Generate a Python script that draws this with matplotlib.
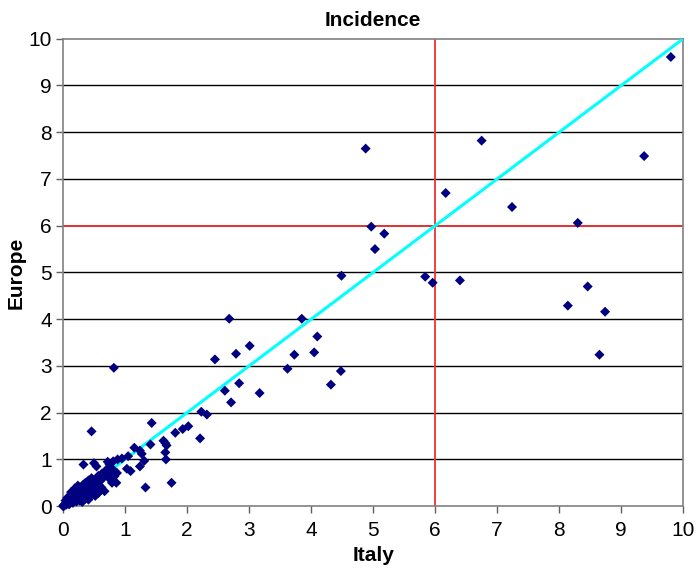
import matplotlib
matplotlib.use('Agg')
from matplotlib import pyplot as plt

# incidence values (Italy vs Europe)
italy_high = [9.80, 9.37, 8.30, 8.46, 8.14, 8.74, 8.65, 4.88, 6.75, 6.17, 7.24, 4.97, 5.18, 5.03, 4.49, 5.84, 5.96, 6.40]
europe_high = [9.61, 7.49, 6.06, 4.70, 4.29, 4.16, 3.24, 7.65, 7.82, 6.70, 6.40, 5.98, 5.83, 5.50, 4.93, 4.91, 4.78, 4.83]

italy_mid = [2.68, 3.85, 4.10, 2.45, 3.01, 2.79, 3.73, 4.05, 3.62, 4.48, 4.32, 2.84, 2.61, 3.17, 2.71, 2.23, 2.32, 1.93, 2.02, 2.21]
europe_mid = [4.01, 4.01, 3.63, 3.14, 3.43, 3.26, 3.24, 3.29, 2.94, 2.89, 2.60, 2.63, 2.47, 2.42, 2.22, 2.02, 1.96, 1.65, 1.71, 1.45]

italy_low = [0.82, 0.46, 1.43, 1.81, 1.62, 1.65, 1.67, 1.65, 1.66, 1.75, 1.33, 1.41, 1.24, 1.27, 1.31, 1.24, 1.15, 1.05, 0.88, 0.81, 1.03, 1.09, 0.72, 0.95]
europe_low = [2.96, 1.60, 1.78, 1.57, 1.40, 1.35, 1.30, 1.15, 1.00, 0.50, 0.40, 1.32, 1.19, 1.12, 0.97, 0.85, 1.25, 1.07, 1.00, 0.96, 0.80, 0.75, 0.95, 1.02]

italy_cluster = [0.33, 0.50, 0.54, 0.75, 0.81, 0.83, 0.86, 0.67, 0.70, 0.74, 0.87, 0.79, 0.60, 0.54, 0.41, 0.33, 0.41,
                 0.02, 0.03, 0.05, 0.06, 0.08, 0.09, 0.11, 0.12, 0.14, 0.15, 0.17, 0.18, 0.20, 0.21, 0.23, 0.25,
                 0.26, 0.28, 0.29, 0.31, 0.32, 0.34, 0.36, 0.37, 0.39, 0.41, 0.43, 0.44, 0.46, 0.48, 0.49, 0.51,
                 0.53, 0.55, 0.57, 0.58, 0.61, 0.63, 0.65, 0.68, 0.72, 0.76, 0.10, 0.16, 0.22, 0.27, 0.31, 0.35,
                 0.38, 0.45, 0.48, 0.52, 0.57, 0.62, 0.04, 0.07, 0.13, 0.19, 0.24, 0.00, 0.01]
europe_cluster = [0.89, 0.92, 0.85, 0.89, 0.78, 0.64, 0.50, 0.32, 0.68, 0.60, 0.71, 0.50, 0.35, 0.32, 0.18, 0.21, 0.14,
                  0.01, 0.04, 0.03, 0.08, 0.05, 0.12, 0.09, 0.15, 0.11, 0.20, 0.14, 0.25, 0.18, 0.30, 0.22, 0.35,
                  0.27, 0.18, 0.40, 0.32, 0.45, 0.36, 0.50, 0.28, 0.42, 0.55, 0.38, 0.48, 0.60, 0.44, 0.52, 0.40,
                  0.58, 0.50, 0.65, 0.45, 0.55, 0.70, 0.62, 0.75, 0.80, 0.72, 0.04, 0.07, 0.10, 0.12, 0.09, 0.15,
                  0.22, 0.25, 0.30, 0.22, 0.28, 0.40, 0.12, 0.18, 0.30, 0.38, 0.44, 0.00, 0.02]

italy = italy_high + italy_mid + italy_low + italy_cluster
europe = europe_high + europe_mid + europe_low + europe_cluster

threshold = 6
y_ticks = list(range(0, 11))
x_ticks = list(range(0, 11))

plt.rcParams['font.family'] = ['Liberation Sans', 'DejaVu Sans']

fig = plt.figure(figsize=(7, 5.7), dpi=100)
ax = fig.add_axes([0.09, 0.112, 0.886, 0.82])

# horizontal gridlines
for t in y_ticks[1:-1]:
    if t != threshold:
        ax.axhline(t, color='black', lw=1, zorder=1)

ax.axhline(threshold, color='#e02020', lw=1.3, zorder=2)
ax.axvline(threshold, color='#f03030', lw=1.3, zorder=2)
ax.plot([0, 10], [0, 10], color='#00ffff', lw=2.2, zorder=3)

ax.scatter(italy, europe, marker='D', s=26, color='#000080', edgecolors='none', zorder=4, clip_on=False)

ax.set_xlim(0, 10)
ax.set_ylim(0, 10)
ax.set_xticks(x_ticks)
ax.set_yticks(y_ticks)
ax.tick_params(labelsize=15, direction='out', length=5, color='#606060', width=1)
ax.tick_params(axis='x', pad=6)
ax.tick_params(axis='y', pad=3)
for side in ['left', 'bottom', 'top', 'right']:
    ax.spines[side].set_color('#808080')
    ax.spines[side].set_linewidth(1.2)

ax.set_title('Incidence', fontsize=15, fontweight='bold', pad=9)
ax.set_xlabel('Italy', fontsize=15, fontweight='bold', labelpad=4)
ax.set_ylabel('Europe', fontsize=15, fontweight='bold', labelpad=2)

plt.savefig('out.png')
